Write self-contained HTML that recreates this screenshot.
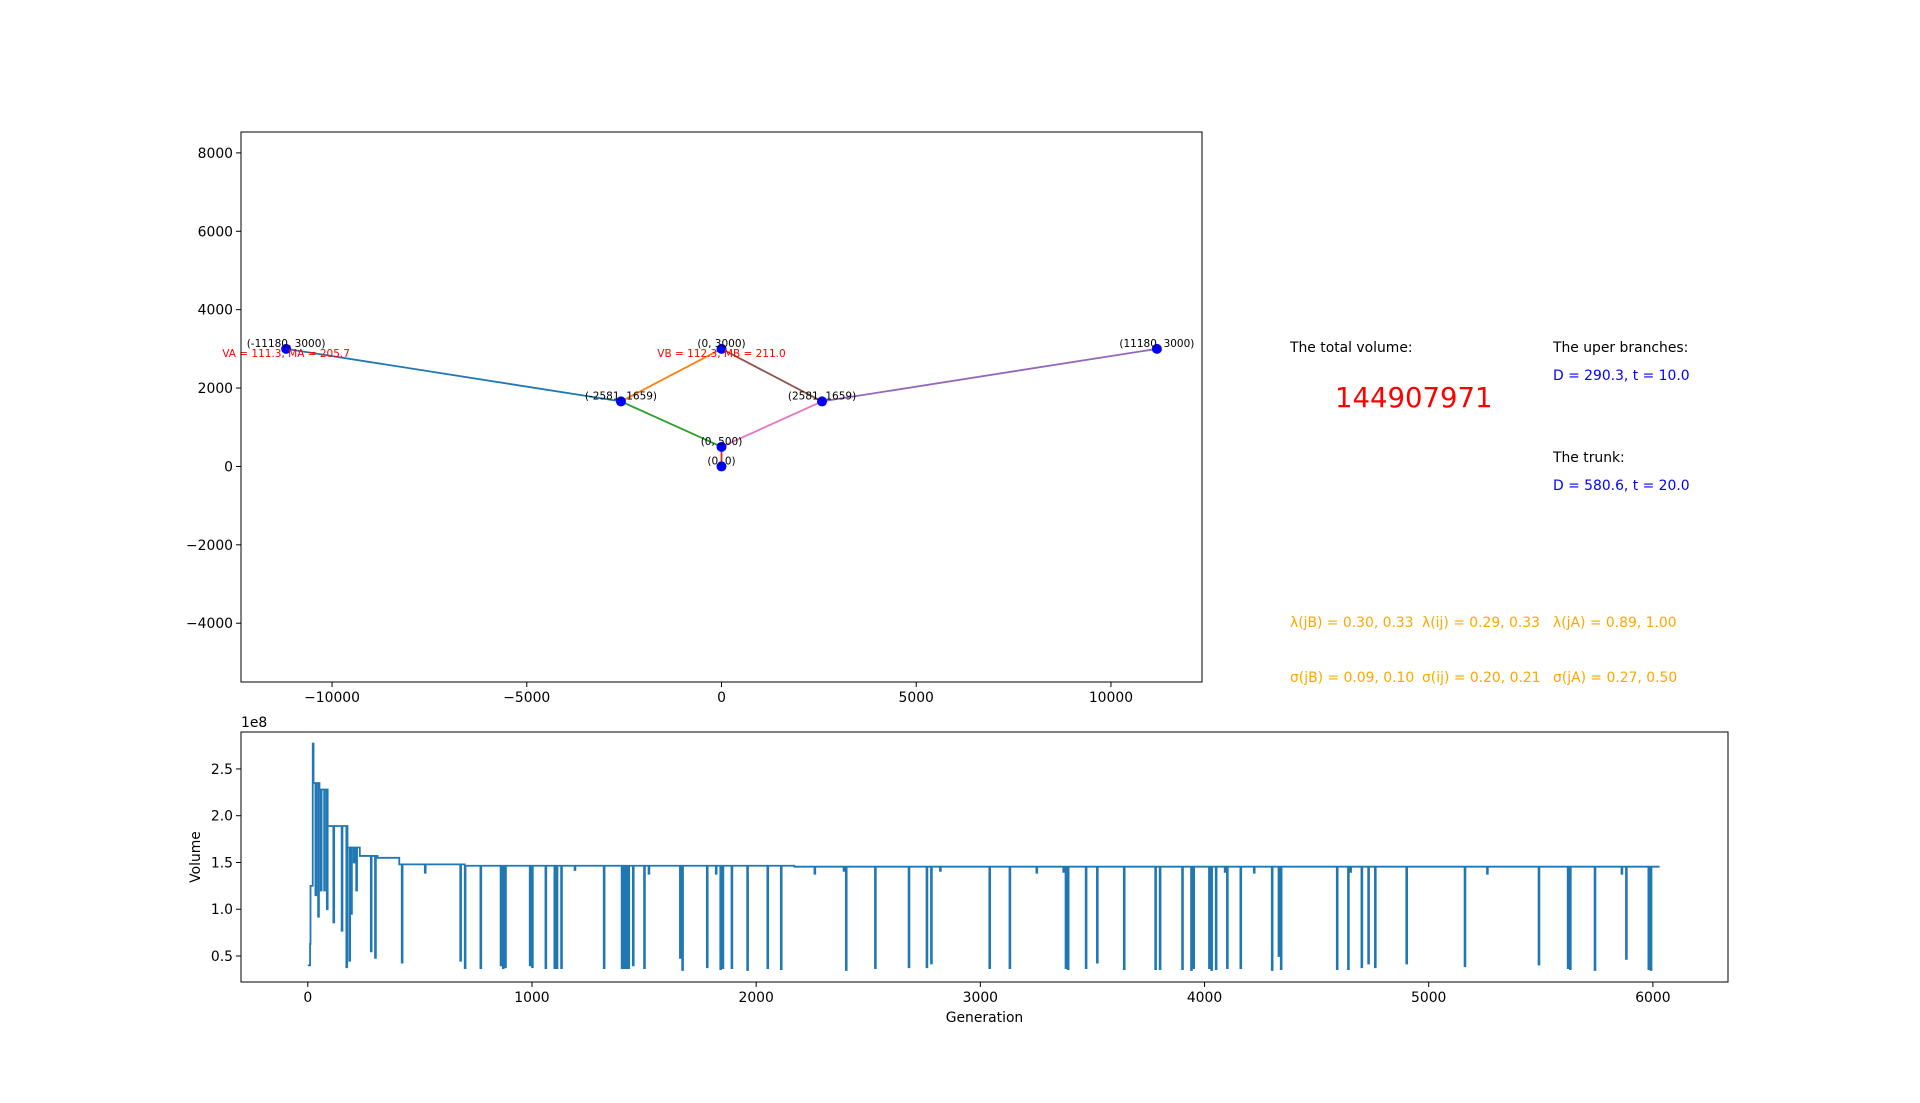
<!DOCTYPE html>
<html><head><meta charset="utf-8"><style>
body{margin:0;background:#fff}
svg{display:block;font-family:"DejaVu Sans","Liberation Sans",sans-serif}
</style></head><body>
<svg id="fig" width="1920" height="1103" viewBox="0 0 1920 1103">
<rect width="1920" height="1103" fill="#fff"/>
<g id="topg"></g>
<g id="bot"></g>
<g font-size="13.9">
<text x="1290" y="352" fill="#000">The total volume:</text>
<text x="1335" y="407" fill="#ff0000" font-size="27.5">144907971</text>
<text x="1553" y="352" fill="#000">The uper branches:</text>
<text x="1553" y="380" fill="#0000ff">D = 290.3, t = 10.0</text>
<text x="1553" y="462" fill="#000">The trunk:</text>
<text x="1553" y="490" fill="#0000ff">D = 580.6, t = 20.0</text>
<g fill="#ffa500">
<text x="1290" y="627">λ(jB) = 0.30, 0.33</text>
<text x="1422" y="627">λ(ij) = 0.29, 0.33</text>
<text x="1553" y="627">λ(jA) = 0.89, 1.00</text>
<text x="1290" y="682">σ(jB) = 0.09, 0.10</text>
<text x="1422" y="682">σ(ij) = 0.20, 0.21</text>
<text x="1553" y="682">σ(jA) = 0.27, 0.50</text>
</g></g>
</svg>
<script>
// ---- tree data ----
const nodeX = [-11180, -2581, 0, 0, 0, 2581, 11180];
const nodeY = [3000, 1659, 3000, 500, 0, 1659, 3000];
const nodeLabels = ["(-11180, 3000)","(-2581, 1659)","(0, 3000)","(0, 500)","(0, 0)","(2581, 1659)","(11180, 3000)"];
const edgeFrom = [0, 1, 1, 3, 2, 6, 5];
const edgeTo   = [1, 2, 3, 4, 5, 5, 3];
const edgeColors = ["#1f77b4","#ff7f0e","#2ca02c","#d62728","#8c564b","#9467bd","#e377c2"];
const topXTicks = [-10000, -5000, 0, 5000, 10000];
const topYTicks = [-4000, -2000, 0, 2000, 4000, 6000, 8000];
// ---- volume data (1e8) ----
const stepGens   = [0, 10, 12, 22, 46, 52, 88, 177, 232, 311, 408, 700, 2170];
const stepLevels = [0.40, 0.63, 1.25, 2.35, 2.35, 2.28, 1.89, 1.66, 1.57, 1.55, 1.48, 1.465, 1.455];
const dipGens = [22,34,46,58,73,85,114,151,172,185,193,205,216,281,300,419,522,680,700,770,860,870,880,990,1000,1060,1100,1110,1130,1190,1320,1400,1410,1420,1430,1450,1500,1520,1660,1670,1780,1820,1840,1850,1890,1960,2050,2110,2260,2390,2400,2530,2680,2760,2780,2820,3040,3130,3250,3370,3380,3390,3470,3520,3640,3780,3800,3900,3940,3950,4020,4030,4050,4090,4100,4160,4220,4300,4330,4340,4590,4640,4650,4700,4730,4760,4900,5160,5260,5490,5620,5630,5740,5860,5880,5980,5990];
const dipVals = [2.77,1.15,0.92,1.2,1.2,1.0,0.86,0.77,0.38,0.45,0.95,1.5,1.2,0.55,0.48,0.43,1.39,0.45,0.37,0.37,0.4,0.37,0.38,0.4,0.38,0.37,0.37,0.37,0.37,1.42,0.37,0.37,0.37,0.37,0.37,0.4,0.37,1.38,0.48,0.35,0.38,1.38,0.36,0.37,0.37,0.35,0.37,0.36,1.38,1.41,0.35,0.37,0.38,0.38,0.42,1.41,0.37,0.37,1.39,1.4,0.37,0.36,0.37,0.43,0.36,0.36,0.36,0.36,0.35,0.37,0.37,0.35,0.36,1.4,0.37,0.37,1.39,0.35,0.5,0.36,0.36,0.36,1.4,0.38,0.42,0.38,0.42,0.39,1.38,0.41,0.37,0.36,0.35,1.38,0.47,0.36,0.35];
const lastGen = 6030;
const botXTicks = [0,1000,2000,3000,4000,5000,6000];
const botYTicks = [0.5,1.0,1.5,2.0,2.5];

const NS="http://www.w3.org/2000/svg";
function mk(parent,tag,attrs){const e=document.createElementNS(NS,tag);for(const k in attrs)e.setAttribute(k,attrs[k]);parent.appendChild(e);return e;}
function minus(v){return String(v).replace('-','\u2212');}

// ---- top axes ----
const T={l:241,r:1202,t:132,b:682,x0:-12338,x1:12338,y0:-5500,y1:8533};
const tx=v=>T.l+(v-T.x0)/(T.x1-T.x0)*(T.r-T.l);
const ty=v=>T.b-(v-T.y0)/(T.y1-T.y0)*(T.b-T.t);
const topG=document.getElementById('topg');
for(let i=0;i<edgeFrom.length;i++){
  const a=edgeFrom[i],b=edgeTo[i];
  const l=mk(topG,'line',{x1:tx(nodeX[a]),y1:ty(nodeY[a]),x2:tx(nodeX[b]),y2:ty(nodeY[b]),stroke:edgeColors[i],'stroke-width':1.8});
  
  
}
for(let i=0;i<nodeX.length;i++){
  const c=mk(topG,'circle',{cx:tx(nodeX[i]),cy:ty(nodeY[i]),r:5,fill:'#0000ff'});
  
  
  const t=mk(topG,'text',{x:tx(nodeX[i]),y:ty(nodeY[i])-2,'text-anchor':'middle','font-size':10.5,fill:'#000'});
  t.textContent=nodeLabels[i];
  
  
}
{
 const a=mk(topG,'text',{x:tx(-11180),y:ty(3000)+8,'text-anchor':'middle','font-size':10.5,fill:'#ff0000'});
 a.textContent='VA = 111.3, MA = 205.7';
 
 
 const b=mk(topG,'text',{x:tx(0),y:ty(3000)+8,'text-anchor':'middle','font-size':10.5,fill:'#ff0000'});
 b.textContent='VB = 112.3, MB = 211.0';
 
 
}
mk(topG,'rect',{x:T.l,y:T.t,width:T.r-T.l,height:T.b-T.t,fill:'none',stroke:'#000','stroke-width':1});
topXTicks.forEach(v=>{const x=tx(v);mk(topG,'line',{x1:x,y1:T.b,x2:x,y2:T.b+5,stroke:'#000'});
 const t=mk(topG,'text',{x:x,y:T.b+20,'text-anchor':'middle','font-size':13.9});t.textContent=minus(v);
 
 });
topYTicks.forEach(v=>{const y=ty(v);mk(topG,'line',{x1:T.l-5,y1:y,x2:T.l,y2:y,stroke:'#000'});
 const t=mk(topG,'text',{x:T.l-8,y:y+5,'text-anchor':'end','font-size':13.9});t.textContent=minus(v);
 
 });

// ---- bottom axes ----
const B={l:241,r:1728,t:732,b:982,x0:-298,x1:6335,y0:0.222,y1:2.895};
const bx=v=>B.l+(v-B.x0)/(B.x1-B.x0)*(B.r-B.l);
const by=v=>B.b-(v-B.y0)/(B.y1-B.y0)*(B.b-B.t);
const bot=document.getElementById('bot');
let d='M'+bx(0)+','+by(stepLevels[0]);
const ev=[];
stepGens.forEach((g,i)=>ev.push({g:g,t:'s',v:stepLevels[i]}));
dipGens.forEach((g,i)=>ev.push({g:g,t:'d',v:dipVals[i]}));
ev.sort((a,b)=>a.g-b.g||(a.t==='s'?-1:1));
let cur=stepLevels[0];
ev.forEach(e=>{
  const x=bx(e.g);
  d+=' L'+x+','+by(cur);
  if(e.t==='s'){cur=e.v;d+=' L'+x+','+by(cur);}
  else{d+=' L'+x+','+by(e.v)+' L'+(x+0.8)+','+by(e.v)+' L'+(x+0.8)+','+by(cur);}
});
d+=' L'+bx(lastGen)+','+by(cur);
const p=mk(bot,'path',{d:d,fill:'none',stroke:'#1f77b4','stroke-width':1.8,'stroke-linejoin':'miter'});


mk(bot,'rect',{x:B.l,y:B.t,width:B.r-B.l,height:B.b-B.t,fill:'none',stroke:'#000','stroke-width':1});
botXTicks.forEach(v=>{const x=bx(v);mk(bot,'line',{x1:x,y1:B.b,x2:x,y2:B.b+5,stroke:'#000'});
 const t=mk(bot,'text',{x:x,y:B.b+20,'text-anchor':'middle','font-size':13.9});t.textContent=v;
 
 });
botYTicks.forEach(v=>{const y=by(v);mk(bot,'line',{x1:B.l-5,y1:y,x2:B.l,y2:y,stroke:'#000'});
 const t=mk(bot,'text',{x:B.l-8,y:y+5,'text-anchor':'end','font-size':13.9});t.textContent=v.toFixed(1);
 
 });
{
 const e=mk(bot,'text',{x:B.l,y:B.t-5,'font-size':13.9});e.textContent='1e8';
 
 
 const xl=mk(bot,'text',{x:(B.l+B.r)/2,y:1022,'text-anchor':'middle','font-size':13.9});xl.textContent='Generation';
 
 
 const yl=mk(bot,'text',{x:0,y:0,'text-anchor':'middle','font-size':13.9,transform:'translate(200,'+((B.t+B.b)/2)+') rotate(-90)'});yl.textContent='Volume';
 
 
}
</script>
</body></html>
